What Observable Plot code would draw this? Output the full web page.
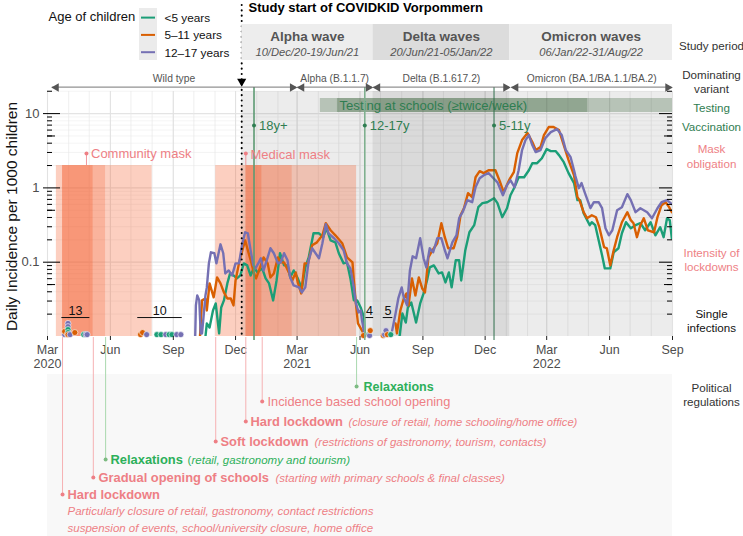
<!DOCTYPE html>
<html><head><meta charset="utf-8">
<style>html,body{margin:0;padding:0;background:#fff}svg{display:block}</style>
<script src="https://cdn.jsdelivr.net/npm/d3@7"></script>
<script src="https://cdn.jsdelivr.net/npm/@observablehq/plot@0.6"></script>
</head><body><script>
// ---------- data: days are counted from 1 Mar 2020, values are per 1000 children
const ages = ["<5 years", "5–11 years", "12–17 years"];
const purpleDays = [216,217,219,222,224,226,231,233,236,239,244,247,253,257,260,265,270,275,280,285,289,293,297,301,304,309,312,316,322,326,331,337,341,346,351,355,360,368,372,377,382,387,392,397,402,407,411,419,426,433,438,443,448,451,455,458,460,463,480,504,509,513,518,521,526,530,534,539,545,550,554,559,564,570,576,581,585,592,598,602,607,614,621,626,632,638,645,648,658,666,672,677,683,689,694,699,704,709,714,721,728,736,745,752,758,765,770,772,777,781,786,794,799,806,811,816,821,826,833,840,848,853,860,867,877,884,892,898,906,913];
const purpleValues = [.0100,.0262,.0357,.0306,.0110,.0110,.0357,.0458,.0964,.136,.132,.0964,.174,.132,.0706,.0775,.0664,.0964,.0964,.180,.253,.245,.145,.0906,.0825,.0994,.113,.0775,.116,.154,.132,.0964,.0994,.132,.106,.0624,.0487,.0458,.0392,.0458,.106,.154,.132,.113,.180,.325,.245,.210,.180,.145,.0964,.0825,.0458,.0279,.0211,.0224,.0164,.0113,null,.0120,.0204,.0325,.0458,.0336,.0262,.0775,.120,.113,.210,.113,.0851,.154,.136,.210,.210,.145,.113,.185,.230,.391,.471,.684,.642,1.02,1.35,1.48,1.58,1.48,1.19,.798,1.09,1.27,1.02,1.73,3.23,4.40,5.14,3.77,3.03,3.23,4.68,5.64,6.19,5.14,3.23,2.59,1.73,1.44,.992,1.16,.850,.533,.642,.642,.533,.286,.230,.269,.501,.550,.824,.684,.471,.533,.471,.391,.533,.642,.684,.604];
const orangeDays = [223,226,231,233,237,243,248,253,258,263,268,272,275,280,285,289,293,298,302,305,311,316,322,326,331,337,341,346,353,358,363,366,371,376,381,387,394,402,407,414,421,431,438,446,448,451,454,460,463,480,509,511,516,521,525,528,533,538,543,548,552,557,563,570,576,581,586,594,599,604,609,615,621,626,632,638,645,655,662,667,675,682,687,694,702,709,714,721,726,733,740,748,755,762,770,775,778,779,784,789,796,802,807,814,818,823,828,833,840,848,853,857,862,867,872,878,887,892,898,904,909,913];
const orangeValues = [.0100,.0306,.0325,.0224,.0518,.0336,.0624,.0518,.0392,.0325,.0325,.0262,.0568,.0964,.145,.197,.145,.0994,.0706,.0605,.0851,.116,.0964,.0624,.0706,.116,.0994,.0994,.0729,.0568,.0729,.0534,.0380,.0964,.0964,.169,.185,.230,.335,.269,.230,.180,.116,.0994,.0568,.0279,.0150,.0120,.0103,null,.0150,.0110,.0224,.0325,.0380,.0262,.0605,.0357,.0624,.0443,.0392,.116,.145,.180,.335,.217,.154,.154,.217,.429,.533,.850,.750,1.39,1.68,1.58,1.73,1.73,1.19,.876,1.27,1.63,2.94,4.40,5.47,4.14,3.23,3.54,5.14,6.59,6.59,6.00,3.77,2.36,1.48,.750,.684,.642,.471,.391,.429,.403,.296,.159,.154,.0906,.145,.217,.345,.471,.368,.335,.217,.315,.391,.269,.253,.403,.585,.642,.550,.471];
const greenDays = [231,233,237,242,246,251,254,258,263,267,272,277,282,287,292,297,302,307,314,319,324,330,335,340,346,351,355,360,366,372,377,382,389,397,403,408,414,421,426,433,438,443,448,453,458,463,464,480,515,519,524,527,532,539,545,550,555,559,565,572,577,582,587,591,597,602,605,611,617,624,630,636,643,653,658,665,672,677,683,689,697,704,709,716,723,730,736,743,748,755,762,770,775,779,784,793,796,801,806,811,815,819,823,828,835,840,846,853,860,867,874,882,889,896,901,906,910,913];
const greenValues = [.0100,.0150,.0132,.0224,.0279,.0110,.0246,.0306,.0518,.0706,.0664,.0605,.0664,.0964,.0906,.0664,.0851,.0729,.0825,.0605,.0518,.0306,.0568,.132,.0906,.0906,.0624,.0775,.0605,.0443,.0851,.116,.245,.245,.217,.286,.197,.185,.132,.0964,.0994,.0605,.0306,.0306,.0246,.0180,.0103,null,.0103,.0204,.0154,.0246,.0287,.0154,.0279,.0380,.0568,.0851,.0906,.0706,.0729,.0534,.0729,.0458,.106,.106,.0568,.145,.253,.315,.550,.623,.642,.727,.623,.403,.533,.798,1.02,1.39,1.39,1.73,2.15,2.15,2.51,3.33,3.13,3.13,2.76,2.22,1.58,1.16,.684,.684,.457,.315,.345,.315,.197,.124,.0825,.0825,.0825,.136,.154,.245,.345,.286,.315,.335,.269,.345,.230,.296,.217,.391,.368,.210];
// single infections
const singleDays = [25,25,29,30,30,30,30,30,33,40,53,56,58, 136,139,145,160,166,173,178,182,189,195, 462,470,471,472, 491,493,495,497,502];
const singleValues = [.0106,.0117,.0106,.0150,.0136,.0124,.0113,.0106,.0106,.0113,.0106,.0106,.0106, .0106,.0113,.0106,.0106,.0106,.0106,.0106,.0106,.0106,.0106, .0103,.0106,.0103,.0120, .0103,.0106,.0120,.0106,.0106];
const singleAges = [2,1,1,2,2,0,0,1,2,1,0,2,2, 1,1,2,0,0,2,0,0,2,2, 1,0,2,1, 1,2,2,1,0];
const clusterCounts = ["13","10","4","5"];
const clusterStart = [21,132,465,491];
const clusterEnd = [62,197,477,505];
const clusterLevel = .0180;
// policy bands
const lockdownStart = [13,22,67,85,246,290,314,358];
const lockdownEnd = [22,67,85,153,290,314,358,452];
const lockdownLevel = [1,3,2,1,1,3,2,1];
const lockdownTop = 2;
// periods
const waveNames = ["Alpha wave","Delta waves","Omicron waves"];
const waveDates = ["10/Dec/20-19/Jun/21","20/Jun/21-05/Jan/22","06/Jan/22-31/Aug/22"];
const waveStart = ["2020-12-10","2021-06-20","2022-01-06"];
const waveEnd = ["2021-06-20","2022-01-06","2022-09-01"];
const variantNames = ["Wild type","Alpha (B.1.1.7)","Delta (B.1.617.2)","Omicron (BA.1/BA.1.1/BA.2)"];
const variantStart = [7,366,477,679];
const variantEnd = [364,475,676,913];
const vaccineDays = [302,464,653];
const vaccineLabels = ["18y+","12-17y","5-11y"];
const testingSpans = [[399,914],[424,790]];
const eventDays = [22,67,85,246,290,314,452];
const eventKinds = ["r","r","g","r","r","r","g"];
const monthLabels = ["Mar\n2020","Jun","Sep","Dec","Mar\n2021","Jun","Sep","Dec","Mar\n2022","Jun","Sep"];
const yMajor = [10,1,0.1];
const yMinorBase = [2,3,4,5,6,7,8,9];

// ---------- layout
const W = 743, H = 536, L = 47, R = 672, M = 91, B = 336;
const RED = "#EE7F85", GREEN = "#2DB05A", VAC = "#2F7D51", GREY = "#4d4d4d";
const ageColors = ["#1B9E77","#D95F02","#7570B3"];
const D = n => new Date(Date.UTC(2020, 2, 1 + n));
const iso = s => new Date(s + "T00:00:00Z");
const FW = R - L, FH = B - M;

// text at a layout position
const T = (s, px, py, o = {}) => Plot.text([s], {text: d => d, frameAnchor: "top-left", dx: px - L, dy: py - M, lineAnchor: "middle", ...o});
// full-frame rectangle narrowed by insets (layout boxes outside the scales)
const box = (px1, px2, py1, py2, o = {}) => Plot.rect([0], {insetLeft: px1 - L, insetRight: R - px2, insetTop: py1 - M, insetBottom: B - py2, ...o});
const spanBox = (d1, d2, py1, py2, o = {}) => Plot.rect([0], {x1: () => d1, x2: () => d2, insetTop: py1 - M, insetBottom: B - py2, ...o});
const vRule = (days, py1, py2, o = {}) => Plot.ruleX(days, {x: d => d, insetTop: py1 - M, insetBottom: B - py2, ...o});
const markDot = (day, py, fill, o = {}) => Plot.dot([day], {x: d => D(d), frameAnchor: "top", dy: py - M, r: 2, fill, ...o});

const months = d3.utcMonth.range(iso("2020-03-01"), iso("2022-09-02"));
const quarters = months.filter((m, i) => i % 3 === 0);
const decades = [0.01, 0.1, 1, 10];
const minorY = decades.flatMap(b => yMinorBase.map(m => b * m)).filter(v => v <= 20);
const rows = (days, vals) => days.map((d, i) => ({date: D(d), value: vals[i]}));
const series = [rows(greenDays, greenValues), rows(orangeDays, orangeValues), rows(purpleDays, purpleValues)];
const singles = singleDays.map((d, i) => ({date: D(d), value: singleValues[i], age: ages[singleAges[i]]}));
const lock = lockdownStart.map((s, i) => ({a: D(s), b: D(lockdownEnd[i]), level: lockdownLevel[i]}));
const bandOpacity = {1: .28, 2: .44, 3: .6};
const variantCentre = i => D((variantStart[i] + variantEnd[i]) / 2);
const eventRows = [494, 477, 459, 441, 421, 401, 386];

const marks = [
  // lower panel for regulations
  box(L, R, 374, H, {fill: "#F8F8F8"}),
  // grid
  Plot.ruleY(minorY, {y: d => d, stroke: "#ececec", strokeWidth: .6}),
  Plot.ruleY(yMajor, {y: d => d, stroke: "#e4e4e4", strokeWidth: 1.2}),
  Plot.ruleX(months, {x: d => d, stroke: "#e8e8e8", strokeWidth: .7}),
  Plot.ruleX(quarters, {x: d => d, stroke: "#e2e2e2", strokeWidth: 1.1}),
  // wave backgrounds
  ...waveStart.map((s, i) => Plot.rect([0], {x1: () => iso(s), x2: () => iso(waveEnd[i]), fill: "#000", fillOpacity: i === 1 ? .145 : .075})),
  // lockdown intensity
  ...[1, 2, 3].map(l => Plot.rect(lock.filter(d => d.level === l), {x1: "a", x2: "b", y1: 0.01, y2: lockdownTop, fill: "#F4511E", fillOpacity: bandOpacity[l]})),
  // testing bars
  ...testingSpans.map(([a, b]) => spanBox(D(a), D(b), 98, 112, {fill: "#3C643C", fillOpacity: .3})),
  T("Testing at schools (≥twice/week)", 339, 105, {fill: VAC, fontSize: 13.1}),
  // series
  ...series.map((s, i) => Plot.line(s, {x: "date", y: "value", stroke: ageColors[i], strokeWidth: 2.4, clip: true, curve: "linear"})),
  // single infections
  Plot.dot(singles, {x: "date", y: "value", fill: "age", stroke: "#fff", strokeWidth: .6, r: 3}),
  Plot.ruleY(clusterStart, {x1: d => D(d), x2: (d, i) => D(clusterEnd[i]), y: clusterLevel, stroke: "#111", strokeWidth: 1}),
  Plot.text(clusterCounts, {x: (d, i) => D((clusterStart[i] + clusterEnd[i]) / 2), y: clusterLevel, text: d => d, dy: -7, fontSize: 12.5, fill: "#111"}),
  // vaccination
  vRule(vaccineDays.slice(0, 1).map(D), 87, 340, {stroke: "#5d9a73", strokeWidth: 1.6}),
  vRule(vaccineDays.slice(1, 2).map(D), 87, 340, {stroke: "#7fb08f", strokeWidth: 1.6}),
  vRule(vaccineDays.slice(2).map(D), 87, 340, {stroke: "#2f6f4c", strokeWidth: 1}),
  Plot.dot(vaccineDays, {x: d => D(d), frameAnchor: "top", dy: 125 - M, r: 2, fill: VAC}),
  Plot.text(vaccineLabels, {x: (d, i) => D(vaccineDays[i]), text: d => d, frameAnchor: "top", dy: 125 - M, dx: 5, lineAnchor: "middle", textAnchor: "start", fill: VAC, fontSize: 13}),
  // study start
  vRule([iso("2020-12-10")], 5, B, {stroke: "#000", strokeWidth: 2, strokeDasharray: "0.1,5.2", strokeLinecap: "round"}),
  Plot.dot([iso("2020-12-10")], {x: d => d, frameAnchor: "top", dy: 81 - M, symbol: "triangle", rotate: 180, r: 3.4, fill: "#000"}),
  T("Study start of COVIDKID Vorpommern", 248, 7, {fontWeight: "bold", fontSize: 13, fill: "#000"}),
  // mask obligation
  vRule([D(57)], 155, 165, {stroke: RED, strokeWidth: .8}),
  vRule([D(290)], 155, 165, {stroke: RED, strokeWidth: .8}),
  markDot(57, 153, RED), markDot(290, 153, RED),
  T("Community mask", 90.5, 153, {fill: RED, fontSize: 13}),
  T("Medical mask", 250, 154, {fill: RED, fontSize: 13}),
  // study periods
  ...waveStart.map((s, i) => spanBox(iso(s), iso(waveEnd[i]), 24, 60, {fill: i === 1 ? "#DCDCDC" : "#EDEDED"})),
  ...waveNames.map((s, i) => Plot.text([s], {x: () => new Date((+iso(waveStart[i]) + +iso(waveEnd[i])) / 2), text: d => d, frameAnchor: "top", dy: 36 - M, lineAnchor: "middle", fontWeight: "bold", fontSize: 13.5, fill: "#555"})),
  ...waveDates.map((s, i) => Plot.text([s], {x: () => new Date((+iso(waveStart[i]) + +iso(waveEnd[i])) / 2), text: d => d, frameAnchor: "top", dy: 52 - M, lineAnchor: "middle", fontStyle: "italic", fontSize: 11.2, fill: "#555"})),
  // variants
  ...variantNames.map((s, i) => spanBox(D(variantStart[i]), D(variantEnd[i]), 86.6, 87.6, {fill: "#777"})),
  Plot.dot(variantStart, {x: d => D(d), frameAnchor: "top", dy: 87 - M, dx: 4, symbol: "triangle", rotate: -90, r: 3.2, fill: "#555"}),
  Plot.dot(variantEnd, {x: d => D(d), frameAnchor: "top", dy: 87 - M, dx: -4, symbol: "triangle", rotate: 90, r: 3.2, fill: "#555"}),
  Plot.text(variantNames, {x: (d, i) => variantCentre(i), text: d => d, frameAnchor: "top", dy: 78 - M, lineAnchor: "middle", fontSize: 10.3, fill: "#555"}),
  // y ticks, both sides
  Plot.ruleY(yMajor, {y: d => d, stroke: "#000", strokeWidth: 1, insetLeft: -4, insetRight: FW - 13}),
  Plot.ruleY(yMajor, {y: d => d, stroke: "#000", strokeWidth: 1, insetLeft: FW - 13}),
  Plot.ruleY(minorY, {y: d => d, stroke: "#000", strokeWidth: 1, insetRight: FW - 5}),
  Plot.ruleY(minorY, {y: d => d, stroke: "#000", strokeWidth: 1, insetLeft: FW - 5}),
  Plot.ruleY([.05, .5, 5], {y: d => d, stroke: "#000", strokeWidth: 1, insetRight: FW - 8}),
  Plot.ruleY([.05, .5, 5], {y: d => d, stroke: "#000", strokeWidth: 1, insetLeft: FW - 8}),
  Plot.text(["10", "1", "0.1"], {y: (d, i) => yMajor[i], text: d => d, frameAnchor: "left", dx: -8, textAnchor: "end", fontSize: 13, fill: GREY}),
  T("Daily Incidence per 1000 children", 12, 216, {rotate: -90, textAnchor: "middle", fontSize: 15.5, fill: "#111"}),
  // x ticks and labels
  vRule(quarters, B, 340, {stroke: "#222", strokeWidth: 1}),
  Plot.text(monthLabels, {x: (d, i) => quarters[i], text: d => d, frameAnchor: "bottom", dy: 7, lineAnchor: "top", fontSize: 12.5, lineHeight: 1.14, fill: GREY}),
  // event connectors
  ...eventDays.map((d, i) => vRule([D(d)], 337, eventRows[i], {stroke: eventKinds[i] === "r" ? "#F6B1B3" : "#A9D8AE", strokeWidth: 1})),
  ...eventDays.map((d, i) => markDot(d, eventRows[i], eventKinds[i] === "r" ? RED : "#7DBB82")),
  T("Relaxations", 363, 386, {fill: GREEN, fontWeight: "bold", fontSize: 12.5}),
  T("Incidence based school opening", 267, 401, {fill: RED, fontSize: 12.8}),
  T("Hard lockdown", 250, 421, {fill: RED, fontWeight: "bold", fontSize: 12.9}),
  T("(closure of retail, home schooling/home office)", 348, 422, {fill: RED, fontStyle: "italic", fontSize: 11.2}),
  T("Soft lockdown", 220, 441, {fill: RED, fontWeight: "bold", fontSize: 12.9}),
  T("(restrictions of gastronomy, tourism, contacts)", 314, 442, {fill: RED, fontStyle: "italic", fontSize: 11.5}),
  T("Relaxations", 110, 459, {fill: GREEN, fontWeight: "bold", fontSize: 12.9}),
  T("(", 187, 460, {fill: GREEN, fontSize: 11.5}),
  T("retail, gastronomy and tourism)", 191, 460, {fill: GREEN, fontStyle: "italic", fontSize: 11.5}),
  T("Gradual opening of schools", 98, 477, {fill: RED, fontWeight: "bold", fontSize: 12.9}),
  T("(starting with primary schools & final classes)", 275, 478, {fill: RED, fontStyle: "italic", fontSize: 11.5}),
  T("Hard lockdown", 67, 494, {fill: RED, fontWeight: "bold", fontSize: 12.9}),
  T("Particularly closure of retail, gastronomy, contact restrictions", 67, 511, {fill: RED, fontStyle: "italic", fontSize: 11.5}),
  T("suspension of events, school/university closure, home office", 67, 528, {fill: RED, fontStyle: "italic", fontSize: 11.5}),
  // legend
  T("Age of children", 48, 16, {fontSize: 13, fill: "#111"}),
  box(139, 157, 8, 60, {fill: "#EBEBEB"}),
  ...ages.map((a, i) => box(141, 155, 16.6 + i * 17.3, 18.6 + i * 17.3, {fill: ageColors[i]})),
  ...ages.map((a, i) => T(a, 164, 18 + i * 17.2, {fontSize: 11.8, fill: "#111"})),
  // right-hand row labels
  ...[
    ["Study period", 45, "#333"], ["Dominating\nvariant", 81, "#333"], ["Testing", 107, VAC],
    ["Vaccination", 126, VAC], ["Mask\nobligation", 155.5, RED], ["Intensity of\nlockdowns", 259, RED],
    ["Single\ninfections", 320, "#111"], ["Political\nregulations", 394, "#333"]
  ].map(([s, y, c]) => T(s, 711, y, {textAnchor: "middle", fontSize: 11.6, lineHeight: 1.25, fill: c}))
];

const chart = Plot.plot({
  width: W, height: H,
  marginLeft: L, marginRight: W - R, marginTop: M, marginBottom: H - B,
  style: {fontFamily: "'Liberation Sans', Arial, sans-serif", background: "#fff", overflow: "visible"},
  x: {type: "utc", domain: [iso("2020-03-01"), iso("2022-09-01")], axis: null},
  y: {type: "log", domain: [0.01, 19.84], axis: null},
  color: {domain: ages, range: ageColors},
  marks
});
document.body.appendChild(chart);
</script></body></html>
